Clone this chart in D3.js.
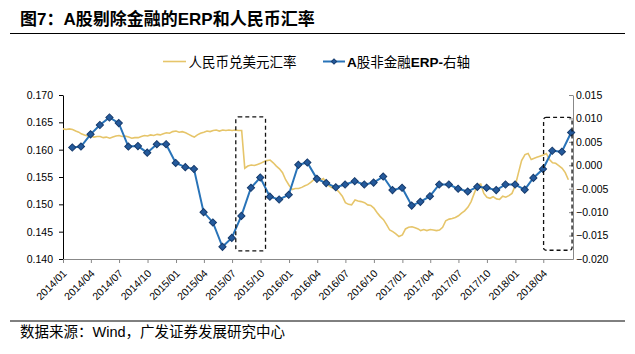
<!DOCTYPE html>
<html>
<head>
<meta charset="utf-8">
<script src="https://cdn.jsdelivr.net/npm/d3@7"></script>
<style>
  body { margin: 0; background: #fff; }
  text { font-family: "Liberation Sans", Arial, "Noto Sans CJK SC", sans-serif; }
</style>
</head>
<body>
<div id="chart"></div>
<script>
// chart texts
const title = "图7：A股剔除金融的ERP和人民币汇率";
const source = "数据来源：Wind，广发证券发展研究中心";
const seriesNames = ["人民币兑美元汇率", "A股非金融ERP-右轴"];

// axis ticks
const leftTicks = [0.140, 0.145, 0.150, 0.155, 0.160, 0.165, 0.170];
const rightTicks = [-0.020, -0.015, -0.010, -0.005, 0.000, 0.005, 0.010, 0.015];
const xTickLabels = ["2014/01","2014/04","2014/07","2014/10","2015/01","2015/04","2015/07","2015/10",
  "2016/01","2016/04","2016/07","2016/10","2017/01","2017/04","2017/07","2017/10","2018/01","2018/04"];

// months covered by both series
const months = [
  "2014-01","2014-02","2014-03","2014-04","2014-05","2014-06","2014-07","2014-08","2014-09","2014-10","2014-11","2014-12",
  "2015-01","2015-02","2015-03","2015-04","2015-05","2015-06","2015-07","2015-08","2015-09","2015-10","2015-11","2015-12",
  "2016-01","2016-02","2016-03","2016-04","2016-05","2016-06","2016-07","2016-08","2016-09","2016-10","2016-11","2016-12",
  "2017-01","2017-02","2017-03","2017-04","2017-05","2017-06","2017-07","2017-08","2017-09","2017-10","2017-11","2017-12",
  "2018-01","2018-02","2018-03","2018-04","2018-05","2018-06"];

// A股非金融ERP (month end, right axis)
const erp = [0.0038, 0.0040, 0.0066, 0.0086, 0.0102, 0.0090, 0.0040, 0.0041, 0.0027, 0.0045,
  0.0045, 0.0005, -0.0004, -0.0008, -0.0100, -0.0122, -0.0174, -0.0155, -0.0108, -0.0048,
  -0.0026, -0.0067, -0.0073, -0.0063, 0.0001, 0.0006, -0.0029, -0.0038, -0.0047, -0.0041,
  -0.0034, -0.0041, -0.0037, -0.0024, -0.0053, -0.0048, -0.0086, -0.0078, -0.0066, -0.0041,
  -0.0041, -0.0050, -0.0056, -0.0046, -0.0048, -0.0053, -0.0041, -0.0041, -0.0052, -0.0027,
  -0.0008, 0.0031, 0.0029, 0.0070];

// 人民币兑美元汇率: days 1, 11, 21 of each month
const fxDays = [1, 11, 21];
const fxRate = [
  .1638,.1637,.1638, .1637,.1634,.1632, .1629,.1627,.1625, .1625,.1623,.1624, .1624,.1622,.1623, .1621,.1623,.1625,
  .1626,.1624,.1625, .1623,.1621,.1622, .1622,.1624,.1626, .1625,.1627,.1626, .1628,.1627,.1629, .1631,.1630,.1633,
  .1634,.1632,.1633, .1631,.1628,.1625, .1623,.1627,.1630, .1632,.1634,.1633, .1635,.1636,.1634, .1636,.1635,.1636,
  .1635,.1636,.1635, .1635,.1566,.1570, .1572,.1571,.1573, .1575,.1578,.1580, .1581,.1576,.1570, .1565,.1558,.1545,
  .1535,.1527,.1529, .1529,.1531,.1534, .1536,.1540,.1545, .1548,.1544,.1547, .1538,.1533,.1530, .1528,.1522,.1515,
  .1503,.1500,.1499, .1508,.1506,.1505, .1503,.1499,.1498, .1493,.1485,.1478, .1472,.1463,.1453, .1450,.1446,.1441,
  .1444,.1455,.1458, .1459,.1457,.1455, .1452,.1454,.1452, .1454,.1453,.1452, .1453,.1458,.1470, .1473,.1474,.1476,
  .1479,.1484,.1488, .1495,.1505,.1520, .1535,.1537,.1520, .1513,.1511,.1514, .1510,.1509,.1515, .1513,.1516,.1520,
  .1535,.1558,.1580, .1591,.1593,.1582, .1584,.1586,.1588, .1590,.1593,.1582, .1576,.1575,.1571, .1566,.1558,.1545];

// highlighted periods (dashed boxes): start, end, low and high on the left axis
const boxStart = ["2015-07-13", "2018-04-02"];
const boxEnd = ["2015-10-17", "2018-07-03"];
const boxLow = [0.1415, 0.1416];
const boxHigh = [0.1660, 0.1659];

const width = 635, height = 354;
const plot = {left: 63, right: 573, top: 95, bottom: 259};

const svg = d3.select("#chart").append("svg")
  .attr("width", width)
  .attr("height", height);

svg.append("rect").attr("width", width).attr("height", height).attr("fill", "#fff");

const parseMonth = d3.timeParse("%Y-%m");
const parseDay = d3.timeParse("%Y-%m-%d");

const x = d3.scaleTime()
  .domain([new Date(2014, 0, 1), new Date(2018, 6, 6)])
  .range([plot.left, plot.right]);
const yL = d3.scaleLinear().domain([0.140, 0.170]).range([plot.bottom, plot.top]);
const yR = d3.scaleLinear().domain([-0.020, 0.015]).range([plot.bottom, plot.top]);

// title and footer
svg.append("text")
  .attr("x", 20).attr("y", 25)
  .style("font-size", "17px").style("font-weight", "bold")
  .text(title);
svg.append("line")
  .attr("x1", 10).attr("x2", 625).attr("y1", 33.5).attr("y2", 33.5)
  .attr("stroke", "#000").attr("stroke-width", 1);
svg.append("line")
  .attr("x1", 10).attr("x2", 625).attr("y1", 321).attr("y2", 321)
  .attr("stroke", "#000").attr("stroke-width", 1);
svg.append("text")
  .attr("x", 20).attr("y", 337)
  .style("font-size", "14.5px")
  .text(source);

// axes
const fmt = d3.format(".3f");
const gL = svg.append("g")
  .attr("transform", `translate(${plot.left},0)`)
  .call(d3.axisLeft(yL).tickValues(leftTicks).tickFormat(fmt).tickSize(4).tickSizeOuter(0).tickPadding(6));
gL.select(".domain").attr("stroke", "#000");
gL.selectAll(".tick line").attr("stroke", "#000");

const gR = svg.append("g")
  .attr("transform", `translate(${plot.right},0)`)
  .call(d3.axisRight(yR).tickValues(rightTicks).tickFormat(fmt).tickSize(-4).tickSizeOuter(0).tickPadding(3));
gR.select(".domain").attr("stroke", "#888");
gR.selectAll(".tick line").attr("stroke", "#888");

const xTicks = xTickLabels.map(s => d3.timeParse("%Y/%m")(s));
const gX = svg.append("g")
  .attr("transform", `translate(0,${plot.bottom})`)
  .call(d3.axisBottom(x).tickValues(xTicks).tickFormat(d3.timeFormat("%Y/%m")).tickSize(4).tickSizeOuter(0));
gX.select(".domain").attr("stroke", "#888");
gX.selectAll(".tick line").attr("stroke", "#888");
gX.selectAll(".tick text")
  .attr("x", 0).attr("y", 0).attr("dy", 0)
  .attr("transform", "translate(4,15) rotate(-45)")
  .style("text-anchor", "end");

svg.selectAll(".tick text").style("font-size", "10.5px").attr("fill", "#000")
  .style("font-family", "'Liberation Sans', Arial, sans-serif");

// exchange rate line
const fxData = fxRate.map((v, i) => {
  const m = parseMonth(months[Math.floor(i / 3)]);
  return {date: new Date(m.getFullYear(), m.getMonth(), fxDays[i % 3]), value: v};
});
svg.append("path")
  .datum(fxData)
  .attr("fill", "none")
  .attr("stroke", "#E6C56A")
  .attr("stroke-width", 1.6)
  .attr("d", d3.line().x(d => x(d.date)).y(d => yL(d.value)));

// ERP line with diamond markers
const erpData = erp.map((v, i) => {
  const m = parseMonth(months[i]);
  return {date: new Date(m.getFullYear(), m.getMonth() + 1, 0), value: v};
});
svg.append("path")
  .datum(erpData)
  .attr("fill", "none")
  .attr("stroke", "#2873B8")
  .attr("stroke-width", 2)
  .attr("d", d3.line().x(d => x(d.date)).y(d => yR(d.value)));

const diamond = d3.symbol(d3.symbolSquare, 26);
svg.append("g")
  .selectAll("path")
  .data(erpData)
  .join("path")
    .attr("d", diamond)
    .attr("transform", d => `translate(${x(d.date)},${yR(d.value)}) rotate(45)`)
    .attr("fill", "#245A9C")
    .attr("stroke", "#173B6C")
    .attr("stroke-width", 1);

// dashed boxes
svg.append("g")
  .selectAll("rect")
  .data(boxStart.map((s, i) => ({s: parseDay(s), e: parseDay(boxEnd[i]), lo: boxLow[i], hi: boxHigh[i]})))
  .join("rect")
    .attr("x", d => x(d.s))
    .attr("y", d => yL(d.hi))
    .attr("width", d => x(d.e) - x(d.s))
    .attr("height", d => yL(d.lo) - yL(d.hi))
    .attr("rx", 2.5)
    .attr("fill", "none")
    .attr("stroke", "#111")
    .attr("stroke-width", 1.3)
    .attr("stroke-dasharray", "4,3");

// legend
const legend = svg.append("g").style("font-family", "'Noto Sans CJK SC', sans-serif").style("font-size", "13.5px");
legend.append("line")
  .attr("x1", 163).attr("x2", 186).attr("y1", 61.5).attr("y2", 61.5)
  .attr("stroke", "#E6C56A").attr("stroke-width", 1.6);
legend.append("text").attr("x", 188.5).attr("y", 66.5).text(seriesNames[0]);
legend.append("line")
  .attr("x1", 323).attr("x2", 345).attr("y1", 61.5).attr("y2", 61.5)
  .attr("stroke", "#2873B8").attr("stroke-width", 2);
legend.append("path")
  .attr("d", d3.symbol(d3.symbolSquare, 14))
  .attr("transform", "translate(334,61.5) rotate(45)")
  .attr("fill", "#245A9C").attr("stroke", "#173B6C");
const lt = legend.append("text").attr("x", 347).attr("y", 66.5);
lt.append("tspan").style("font-weight", "bold").style("font-family", "'Liberation Sans', sans-serif").text(seriesNames[1].slice(0, 1));
lt.append("tspan").text(seriesNames[1].slice(1, 5));
lt.append("tspan").style("font-weight", "bold").style("font-family", "'Liberation Sans', sans-serif").text(seriesNames[1].slice(5, 9));
lt.append("tspan").text(seriesNames[1].slice(9));
</script>
</body>
</html>
